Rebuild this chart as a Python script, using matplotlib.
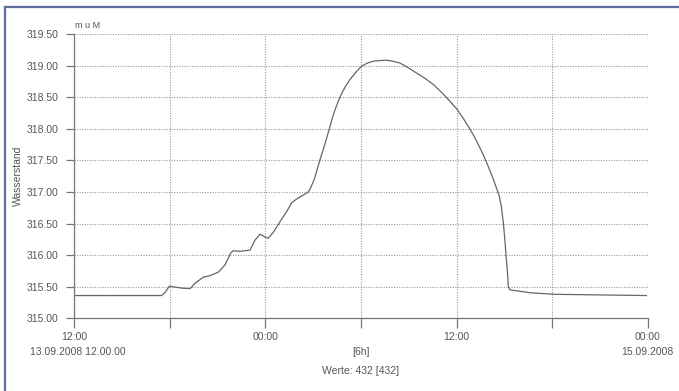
import matplotlib
matplotlib.use("Agg")
import matplotlib.pyplot as plt
from matplotlib.lines import Line2D

# hours since 13.09.2008 12:00
hours = [0.0, 5.5, 5.75, 5.98, 6.44, 6.86, 7.28, 7.59, 8.11, 8.53, 9.05, 9.47, 9.82,
         9.99, 10.41, 11.04, 11.36, 11.67, 12.05, 12.19, 12.5, 12.92, 13.34, 13.65,
         13.97, 14.38, 14.70, 14.85, 15.01, 15.12, 15.3, 15.43, 15.75, 15.9, 16.06,
         16.2, 16.37, 16.55, 16.79, 17.0, 17.31, 17.7, 18.04, 18.4, 18.77, 19.2, 19.61,
         20.0, 20.45, 21.0, 21.5, 22.0, 22.54, 23.0, 23.38, 23.7, 24.05, 24.45, 24.84,
         25.05, 25.26, 25.57, 25.89, 26.1, 26.3, 26.5, 26.68, 26.8, 26.93, 27.02, 27.1,
         27.18, 27.24, 27.35, 28.6, 30.07, 35.9]
level = [315.36, 315.36, 315.42, 315.51, 315.49, 315.475, 315.47, 315.555, 315.65,
         315.675, 315.73, 315.845, 316.03, 316.07, 316.06, 316.08, 316.24, 316.33,
         316.28, 316.27, 316.36, 316.53, 316.69, 316.83, 316.89, 316.95, 317.00,
         317.07, 317.165, 317.24, 317.40, 317.51, 317.77, 317.90, 318.04, 318.17,
         318.30, 318.42, 318.56, 318.66, 318.78, 318.90, 318.99, 319.04, 319.07,
         319.08, 319.085, 319.07, 319.04, 318.96, 318.88, 318.80, 318.70, 318.59,
         318.49, 318.40, 318.30, 318.15, 317.99, 317.90, 317.80, 317.64, 317.46,
         317.33, 317.20, 317.06, 316.93, 316.77, 316.505, 316.25, 315.98, 315.75,
         315.50, 315.45, 315.405, 315.38, 315.36]

x_ticks = [0, 6, 12, 18, 24, 30, 36]
x_tick_labels = ["12:00", "", "00:00", "", "12:00", "", "00:00"]
y_ticks = [315.0, 315.5, 316.0, 316.5, 317.0, 317.5, 318.0, 318.5, 319.0, 319.5]
y_tick_labels = ["315.00", "315.50", "316.00", "316.50", "317.00", "317.50",
                 "318.00", "318.50", "319.00", "319.50"]

plt.rcParams['font.family'] = ['Liberation Sans', 'DejaVu Sans']
txt = '#555555'
axc = '#777777'
fs = 7.5

fig = plt.figure(figsize=(6.79, 3.91), dpi=100)
fig.patch.set_facecolor('white')
W, H = 679, 391
L, R, T, B = 74, 648, 34, 318.3
ax = fig.add_axes([L / W, 1 - B / H, (R - L) / W, (B - T) / H])

ax.plot(hours, level, color='#666666', lw=0.9)
ax.set_xlim(0, 36)
ax.set_ylim(315.0, 319.5)
ax.set_xticks(x_ticks)
ax.set_xticklabels(x_tick_labels)
ax.set_yticks(y_ticks)
ax.set_yticklabels(y_tick_labels)
ax.grid(True, color='#9a9a9a', linestyle=(0, (1, 1.3)), lw=0.8)
for s in ['top', 'right']:
    ax.spines[s].set_visible(False)
for s in ['left', 'bottom']:
    ax.spines[s].set_color(axc)
    ax.spines[s].set_linewidth(0.9)
ax.tick_params(axis='y', length=6, width=0.9, color=axc, labelcolor=txt,
               labelsize=fs, pad=5)
ax.tick_params(axis='x', length=7, width=0.9, color=axc, labelcolor=txt,
               labelsize=fs, pad=3)
ax.set_ylabel('Wasserstand', color=txt, fontsize=fs, labelpad=3)

def ftext(x, y, s, size=fs, **kw):
    fig.text(x / W, 1 - y / H, s, color=txt, fontsize=size, va='center', **kw)

ftext(75, 25, 'm u M', size=6.5, ha='left')
ftext(30, 352, '13.09.2008 12.00.00', ha='left')
ftext(361, 352, '[6h]', ha='center')
ftext(673, 352, '15.09.2008', ha='right')
ftext(361, 371, 'Werte: 432 [432]', ha='center')

# outer frame (left and top edges visible)
fc = '#5d6d9e'
fig.add_artist(Line2D([5 / W, 5 / W], [0, 1 - 7 / H], color=fc, lw=1.6,
                      transform=fig.transFigure))
fig.add_artist(Line2D([5 / W, 1], [1 - 7 / H, 1 - 7 / H], color=fc, lw=1.6,
                      transform=fig.transFigure))

fig.savefig('out.png', dpi=100, facecolor='white')
